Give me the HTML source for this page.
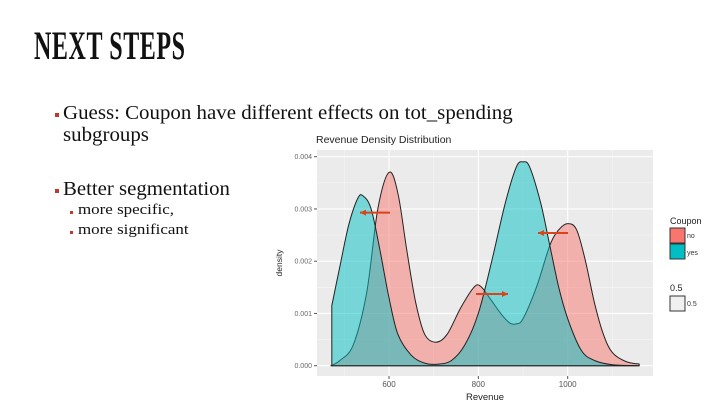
<!DOCTYPE html>
<html><head><meta charset="utf-8"><style>
body{margin:0;width:720px;height:405px;background:#fff;overflow:hidden;position:relative;font-family:"Liberation Serif",serif;}
.t{position:absolute;white-space:nowrap;color:#111;transform-origin:left top;}
.b{position:absolute;background:#c0392b;}
</style></head><body>
<div class="t" style="left:34px;top:22px;font-size:40px;font-weight:bold;transform:scaleX(0.6);letter-spacing:1px;">NEXT STEPS</div>
<div class="b" style="left:55px;top:113px;width:4px;height:4px;"></div>
<div class="t" style="left:63px;top:102px;font-size:20px;line-height:22px;transform:scaleX(1.045);">Guess: Coupon have different effects on tot_spending<br>subgroups</div>
<div class="b" style="left:55px;top:189px;width:4px;height:4px;"></div>
<div class="t" style="left:63px;top:178px;font-size:20px;transform:scaleX(1.04);">Better segmentation</div>
<div class="b" style="left:70px;top:211px;width:3px;height:3px;"></div>
<div class="t" style="left:78px;top:202px;font-size:15px;transform:scaleX(1.13);">more specific,</div>
<div class="b" style="left:70px;top:231px;width:3px;height:3px;"></div>
<div class="t" style="left:78px;top:222px;font-size:15px;transform:scaleX(1.13);">more significant</div>
<svg id="chart" width="720" height="405" style="position:absolute;left:0;top:0;font-family:'Liberation Sans',sans-serif;"></svg>
<script>
const noX=[470,490,520,550,575,600,620,640,660,680,705,730,760,790,805,825,850,870,885,900,930,960,980,1000,1020,1040,1060,1080,1100,1130,1160];
const noY=[0,0.0001,0.0004,0.0014,0.003,0.0037,0.0033,0.0022,0.0012,0.0006,0.00045,0.0006,0.0011,0.0015,0.00152,0.0013,0.001,0.00082,0.0008,0.0009,0.0015,0.0023,0.0026,0.00272,0.0026,0.002,0.0012,0.0006,0.00025,0.00008,0.00003];
const yesX=[472,490,510,530,542,560,580,600,620,650,680,710,740,770,800,830,860,885,900,915,940,960,980,1000,1030,1060,1100,1160];
const yesY=[0.00115,0.0019,0.0027,0.0032,0.00325,0.003,0.0022,0.0013,0.0006,0.0002,0.00005,0.00003,0.0001,0.0004,0.001,0.002,0.0031,0.0038,0.0039,0.0038,0.0031,0.0023,0.0015,0.0009,0.0003,0.0001,0.00002,0];
const xTicks=[600,800,1000];
const yTicks=[0,0.001,0.002,0.003,0.004];
const svg=document.getElementById('chart');const NS='http://www.w3.org/2000/svg';
const X=v=>389+(v-600)*0.4467, Y=v=>365.7-v*52250;
const L=317,R=653,T=150,B=376;
function mk(t,a,n){const e=document.createElementNS(NS,t);for(const k in a)e.setAttribute(k,a[k]);


svg.appendChild(e);return e;}
mk('rect',{x:L,y:T,width:R-L,height:B-T,fill:'#ebebeb'},'plot-panel');
[500,700,900,1100].forEach(v=>mk('line',{x1:X(v),x2:X(v),y1:T,y2:B,stroke:'#f5f5f5','stroke-width':0.6},'minor-gridline'));
[0.0005,0.0015,0.0025,0.0035].forEach(v=>mk('line',{x1:L,x2:R,y1:Y(v),y2:Y(v),stroke:'#f5f5f5','stroke-width':0.6},'minor-gridline'));
xTicks.forEach(v=>{mk('line',{x1:X(v),x2:X(v),y1:T,y2:B,stroke:'#fff','stroke-width':1.1},'x-gridline');
mk('line',{x1:X(v),x2:X(v),y1:B,y2:B+3,stroke:'#555'},'x-tick');
const t=mk('text',{x:X(v),y:B+11,'font-size':8,fill:'#555','text-anchor':'middle'},'x-tick-label');t.textContent=v;});
yTicks.forEach(v=>{mk('line',{x1:L,x2:R,y1:Y(v),y2:Y(v),stroke:'#fff','stroke-width':1.1},'y-gridline');
mk('line',{x1:L-3,x2:L,y1:Y(v),y2:Y(v),stroke:'#555'},'y-tick');
const t=mk('text',{x:L-5,y:Y(v)+2.5,'font-size':7,fill:'#666','text-anchor':'end'},'y-tick-label');t.textContent=v.toFixed(3);});
function area(xs,ys,fill,n){
const p=xs.map((x,i)=>[X(x),Y(ys[i])]);
let d='M'+p[0][0]+','+Y(0)+' L'+p[0][0].toFixed(1)+','+p[0][1].toFixed(1);
for(let i=0;i<p.length-1;i++){const a=p[Math.max(0,i-1)],b=p[i],c=p[i+1],e=p[Math.min(p.length-1,i+2)];
const c1=[b[0]+(c[0]-a[0])/6,Math.min(Y(0),b[1]+(c[1]-a[1])/6)],c2=[c[0]-(e[0]-b[0])/6,Math.min(Y(0),c[1]-(e[1]-b[1])/6)];
d+=` C${c1[0].toFixed(1)},${c1[1].toFixed(1)} ${c2[0].toFixed(1)},${c2[1].toFixed(1)} ${c[0].toFixed(1)},${c[1].toFixed(1)}`;}
d+=' L'+p[p.length-1][0]+','+Y(0)+' Z';
mk('path',{d:d,fill:fill,'fill-opacity':0.5,stroke:'#222','stroke-width':1,'stroke-linejoin':'round'},n);}
area(noX,noY,'#f8766d','density-no');
area(yesX,yesY,'#00bfc4','density-yes');
function arrow(x1,y,x2,n){mk('line',{x1:x1,x2:x2,y1:y,y2:y,stroke:'#d9441c','stroke-width':2},n);
const s=x2>x1?-1:1;mk('path',{d:`M${x2},${y} L${x2+s*6},${y-3} L${x2+s*6},${y+3}Z`,fill:'#d9441c'},n+'-head');}
arrow(390,212.6,360,'arrow-shift-left-1');arrow(568,233,538,'arrow-shift-left-2');arrow(476,294,508,'arrow-shift-right');
let t=mk('text',{x:316,y:143,'font-size':10.5,fill:'#222'},'chart-title');t.textContent='Revenue Density Distribution';
t=mk('text',{x:485,y:400,'font-size':9.5,fill:'#222','text-anchor':'middle'},'x-axis-title');t.textContent='Revenue';
t=mk('text',{x:0,y:0,'font-size':8.5,fill:'#222','text-anchor':'middle',transform:'translate(282,263) rotate(-90)'},'y-axis-title');t.textContent='density';
t=mk('text',{x:670,y:224,'font-size':9,fill:'#222'},'legend-title');t.textContent='Coupon';
mk('rect',{x:670,y:228,width:15,height:15,fill:'#f8766d',stroke:'#333'},'legend-key-no');
t=mk('text',{x:687,y:238,'font-size':7,fill:'#333'},'legend-label-no');t.textContent='no';
mk('rect',{x:670,y:244,width:15,height:15,fill:'#00bfc4',stroke:'#333'},'legend-key-yes');
t=mk('text',{x:687,y:255,'font-size':7,fill:'#333'},'legend-label-yes');t.textContent='yes';
t=mk('text',{x:670,y:291,'font-size':9,fill:'#222'},'legend-alpha-title');t.textContent='0.5';
mk('rect',{x:670,y:296,width:15,height:15,fill:'#f0f0f0',stroke:'#333'},'legend-key-alpha');
t=mk('text',{x:687,y:306,'font-size':7,fill:'#333'},'legend-label-alpha');t.textContent='0.5';
</script>
</body></html>
